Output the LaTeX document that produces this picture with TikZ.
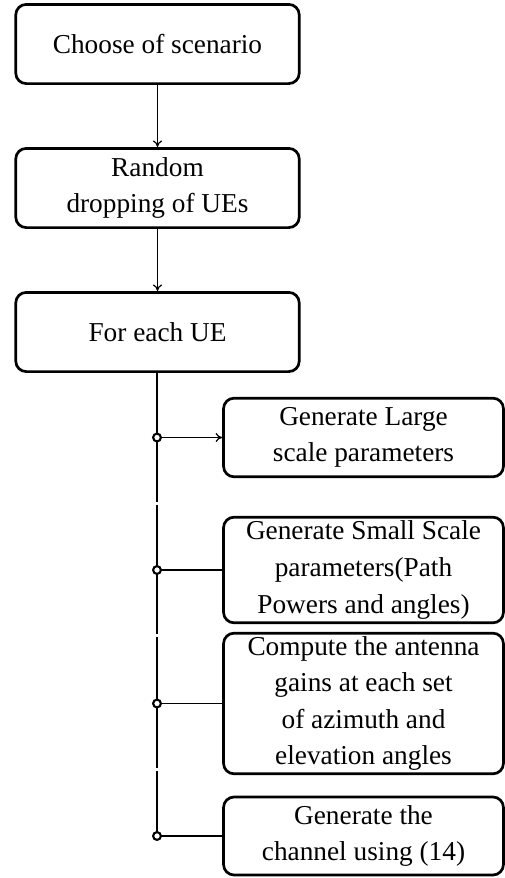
\documentclass[tikz,border=0pt]{standalone}
\usepackage{fontspec}
\setmainfont{Liberation Serif}
\usetikzlibrary{arrows.meta}
\begin{document}
\begin{tikzpicture}[x=0.33333pt,y=-0.33333pt,
  flowbox/.style={draw,line width=0.9pt,rounded corners=3.5pt,align=center,
    inner sep=1pt,font=\fontsize{9.1}{12.2}\selectfont},
  mainbox/.style={flowbox,minimum width=94.5pt,minimum height=26.4pt},
  sidebox/.style={flowbox,minimum width=93.3pt},
  link/.style={line width=0.4pt},
  arr/.style={link,-{To[length=2.2pt,width=3pt]}},
  joint/.style={circle,draw,fill=white,line width=0.7pt,inner sep=0pt,minimum size=2.6pt}]
\useasboundingbox (0,0) rectangle (505,878);

% main column
\node[mainbox] (b1) at (157.5,44) {Choose of scenario};
\node[mainbox] (b2) at (157.5,188) {Random\\dropping of UEs};
\node[mainbox] (b3) at (157.5,332) {For each UE};

% side column
\node[sidebox,minimum height=26.2pt] (ra) at (363.5,437.5) {Generate Large\\scale parameters};
\node[sidebox,minimum height=35.2pt] (rb) at (363.5,570) {Generate Small Scale\\parameters(Path\\Powers and angles)};
\node[sidebox,minimum height=45.5pt] (rc) at (363.5,703.5) {Compute the antenna\\gains at each set\\of azimuth and\\elevation angles};
\node[sidebox,minimum height=26pt] (rd) at (363.5,836) {Generate the\\channel using (14)};

\draw[arr] (b1) -- (b2);
\draw[arr] (b2) -- (b3);

% trunk, drawn in pieces
\coordinate (ja) at (157,437.5);
\coordinate (jb) at (157,570);
\coordinate (jc) at (157,703.5);
\coordinate (jd) at (157,836);
\coordinate (s1) at (157,502);
\coordinate (s2) at (157,504.5);
\coordinate (s3) at (157,634);
\coordinate (s4) at (157,636.5);
\coordinate (s5) at (157,768);
\coordinate (s6) at (157,770.5);
\draw[link] (b3.south -| ja) -- (s1);
\draw[link] (s2) -- (s3);
\draw[link] (s4) -- (s5);
\draw[link] (s6) -- (jd);

% branches
\draw[arr] (ja) -- (ra.west);
\draw[link] (jb) -- (rb.west);
\draw[link] (jc) -- (rc.west);
\draw[link] (jd) -- (rd.west);

\node[joint] at (ja) {};
\node[joint] at (jb) {};
\node[joint] at (jc) {};
\node[joint] at (jd) {};
\end{tikzpicture}
\end{document}
